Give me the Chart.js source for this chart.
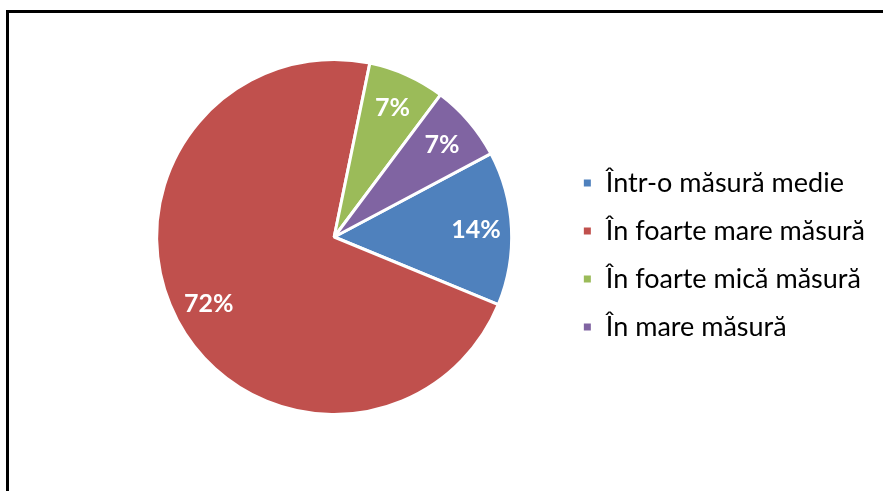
<!DOCTYPE html>
<html>
<head>
<meta charset="utf-8">
<script src="https://cdn.jsdelivr.net/npm/chart.js@4/dist/chart.umd.min.js"></script>
<style>
    body { margin: 0; background: #fff; }
    #wrap { position: relative; width: 883px; height: 491px; overflow: hidden; }
    #frame { position: absolute; left: 6px; top: 10px; width: 900px; height: 500px;
             border-left: 3px solid #000; border-top: 3px solid #000; }
    #chart { position: absolute; left: 0; top: 0; }
</style>
</head>
<body>
<div id="wrap">
    <div id="frame"></div>
    <canvas id="chart" width="883" height="491"></canvas>
</div>
<script>
// Chart data
const categories = ['Într-o măsură medie', 'În foarte mare măsură', 'În foarte mică măsură', 'În mare măsură'];
const percentages = [14, 72, 7, 7];
const sliceColors = ['#4F81BD', '#C0504D', '#9BBB59', '#8064A2'];

// Percent labels inside the slices
const sliceLabels = {
    id: 'sliceLabels',
    afterDatasetsDraw(chart) {
        const ctx = chart.ctx;
        const meta = chart.getDatasetMeta(0);
        ctx.save();
        ctx.fillStyle = '#fff';
        ctx.font = 'bold 25px Lato';
        ctx.textAlign = 'center';
        ctx.textBaseline = 'middle';
        meta.data.forEach((arc, i) => {
            const mid = (arc.startAngle + arc.endAngle) / 2;
            const r = arc.outerRadius * 0.8;
            ctx.fillText(percentages[i] + '%', arc.x + Math.cos(mid) * r, arc.y + Math.sin(mid) * r);
        });
        ctx.restore();
    }
};

// Legend sits a bit lower than the pie centre
const legendShift = {
    id: 'legendShift',
    afterLayout(chart) {
        if (chart.legend) {
            chart.legend.top += 18;
            chart.legend.bottom += 18;
        }
    }
};

const ctx = document.getElementById('chart').getContext('2d');
const pieChart = new Chart(ctx, {
    type: 'pie',
    data: {
        labels: categories,
        datasets: [{
            data: percentages,
            backgroundColor: sliceColors,
            borderColor: '#fff',
            borderWidth: 3
        }]
    },
    options: {
        responsive: false,
        animation: false,
        rotation: 62,
        layout: { padding: { left: 107, right: 8, top: 58, bottom: 75 } },
        plugins: {
            tooltip: { enabled: false },
            legend: {
                position: 'right',
                labels: {
                    boxWidth: 10,
                    boxHeight: 10,
                    padding: 21,
                    color: '#000',
                    font: { family: 'Lato', size: 27 }
                }
            }
        }
    },
    plugins: [sliceLabels, legendShift]
});
</script>
</body>
</html>
